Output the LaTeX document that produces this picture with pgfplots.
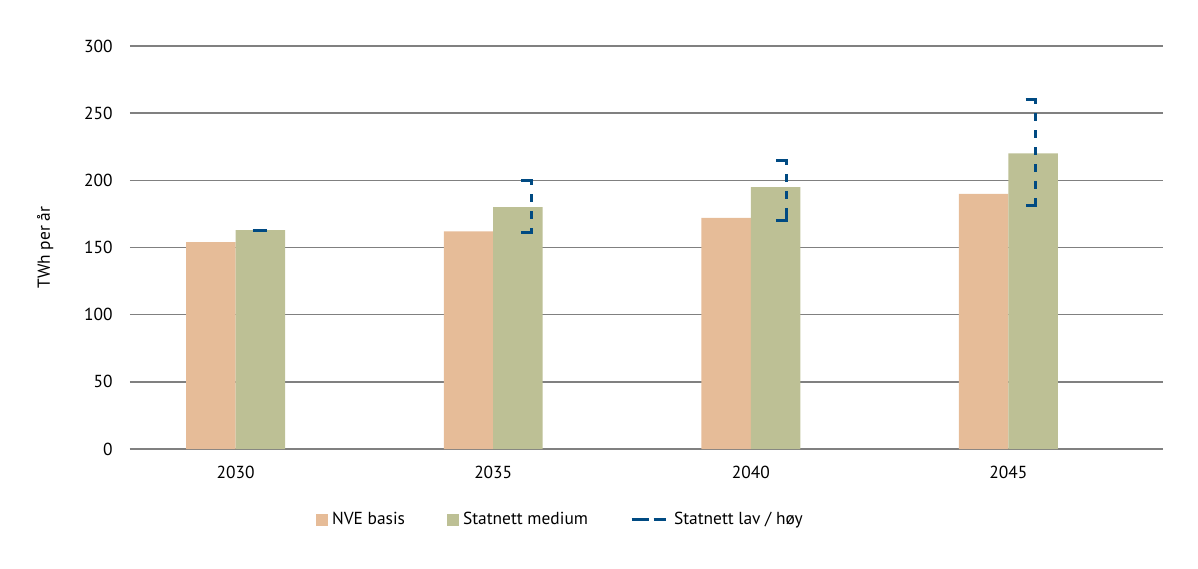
\documentclass[border=0pt]{standalone}
\usepackage{fontspec}
\setmainfont{PT Sans}
\usepackage{pgfplots}
\pgfplotsset{compat=1.18}
\definecolor{nve}{RGB}{230,188,152}
\definecolor{stm}{RGB}{189,192,149}
\definecolor{stlh}{RGB}{0,74,130}
\definecolor{gridc}{RGB}{128,128,128}
\begin{document}
\begin{tikzpicture}
\path[use as bounding box] (-65pt,-59.5pt) rectangle (534pt,224.5pt);
\begin{axis}[
  at={(0,0)}, anchor=south west,
  scale only axis, width=516.5pt, height=201.5pt,
  xmin=-0.41, xmax=3.6, ymin=0, ymax=300,
  xtick={0,1,2,3}, xticklabels={2030,2035,2040,2045},
  ytick={0,50,...,300},
  axis lines=left,
  x axis line style={-, draw=gridc, line width=0.9pt},
  y axis line style={draw=none},
  tick style={draw=none},
  ymajorgrids, grid style={gridc, line width=0.7pt},
  unbounded coords=jump,
  font=\fontsize{8.7}{10}\selectfont,
  /pgf/number format/assume math mode=true,
  /pgf/number format/1000 sep={},
  yticklabel style={xshift=-3pt},
  xticklabel style={yshift=-3pt},
  ylabel={TWh per år},
  ylabel style={at={(axis description cs:-0.082,0.5)}, anchor=center},
  legend columns=3,
  legend style={at={(0.174,-0.176)}, anchor=west, draw=none, fill=none,
    font=\fontsize{8.7}{10}\selectfont,
    /tikz/every even column/.append style={column sep=19pt}},
]
\addplot[ybar, bar width=0.192, bar shift=-0.096, fill=nve, draw=none,
  legend image code/.code={\fill[nve] (0pt,-3pt) rectangle (6pt,3pt);}]
  coordinates {(0,154) (1,162) (2,172) (3,190)};
\addlegendentry{NVE basis}
\addplot[ybar, bar width=0.192, bar shift=0.096, fill=stm, draw=none,
  legend image code/.code={\fill[stm] (0pt,-3pt) rectangle (6pt,3pt);}]
  coordinates {(0,163) (1,180) (2,195) (3,220)};
\addlegendentry{Statnett medium}
% solid corners of the low/high brackets
\addplot[forget plot, stlh, line width=1.5pt, line join=miter, no markers]
  coordinates {
  (0.066,163) (0.12,163) (0.5,nan)
  (1.109,200) (1.150,200) (1.150,196.5) (1.5,nan)
  (1.150,164.5) (1.150,161) (1.109,161) (1.5,nan)
  (2.098,215) (2.137,215) (2.137,211.5) (2.5,nan)
  (2.137,173.5) (2.137,170) (2.098,170) (2.5,nan)
  (3.067,260) (3.106,260) (3.106,256.5) (3.5,nan)
  (3.106,184.5) (3.106,181) (3.067,181)
  };
% dashed middle of the brackets
\addplot[stlh, line width=1.5pt, dash pattern=on 4pt off 4.5pt, dash phase=4pt, no markers,
  legend image code/.code={
    \draw[stlh, line width=1.5pt, solid] (0pt,0pt) -- (5pt,0pt);
    \draw[stlh, line width=1.5pt, solid] (11pt,0pt) -- (16pt,0pt);
    \path (0pt,0pt) -- (18.5pt,0pt);}]
  coordinates {
  (1.150,196.5) (1.150,164.5) (1.5,nan)
  (2.137,211.5) (2.137,173.5) (2.5,nan)
  (3.106,256.5) (3.106,184.5)
  };
\addlegendentry{Statnett lav / høy}
\end{axis}
\end{tikzpicture}
\end{document}
